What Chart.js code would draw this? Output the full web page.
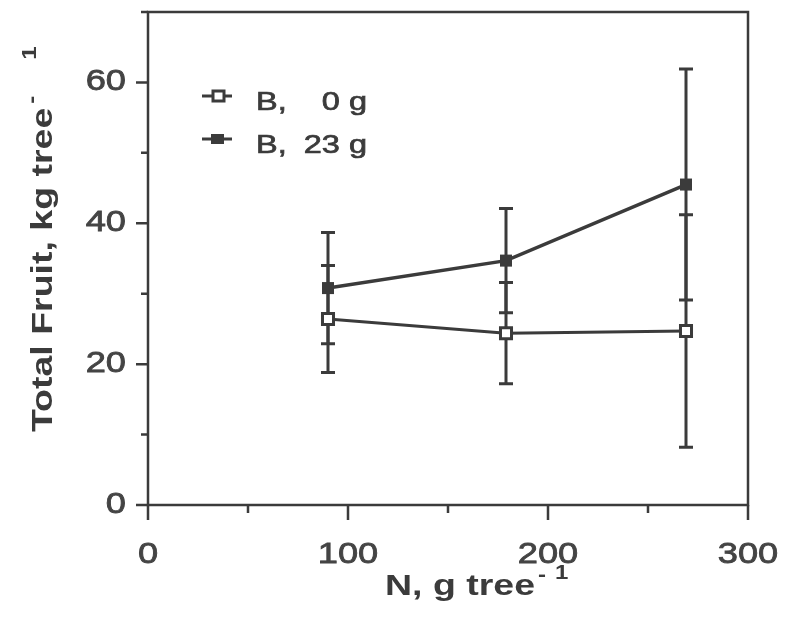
<!DOCTYPE html>
<html>
<head>
<meta charset="utf-8">
<script src="https://cdn.jsdelivr.net/npm/chart.js@4"></script>
<style>
    html, body { margin: 0; padding: 0; background: #fff; }
    #wrap { width: 799px; height: 625px; }
</style>
</head>
<body>
<div id="wrap"><canvas id="chart"></canvas></div>
<script>
//=================================================
//Data
//=================================================
const nRates = [90, 179, 269];
const fruitB0 = [26.4, 24.4, 24.7];
const errB0 = [7.6, 7.2, 16.5];
const fruitB23 = [30.8, 34.7, 45.5];
const errB23 = [7.9, 7.4, 16.4];
const xTickLabels = [0, 100, 200, 300];
const xMinorTicks = [50, 150, 250];
const yTickLabels = [0, 20, 40, 60];
const yMinorTicks = [10, 30, 50, 70];
const legendDose = ["0 g", "23 g"];

const ink = "#3b3b3b";
const face = "'Liberation Sans', Arial, sans-serif";

// the scan's lettering is wide, so stretch text along its direction
const wideText = (ctx, text, x, y, o) => {
    ctx.save();
    ctx.translate(x, y);
    if (o.rotate) ctx.rotate(o.rotate);
    ctx.scale(o.stretch || 1, 1);
    ctx.font = o.font;
    ctx.fillStyle = o.color || ink;
    ctx.textAlign = o.align || "left";
    ctx.textBaseline = o.baseline || "alphabetic";
    ctx.fillText(text, 0, 0);
    if (o.heavy) {
        // thicken a little, like the blurred print
        ctx.strokeStyle = o.color || ink;
        ctx.lineWidth = o.heavy;
        ctx.strokeText(text, 0, 0);
    }
    const w = ctx.measureText(text).width * (o.stretch || 1);
    ctx.restore();
    return w;
};

//=================================================
//Frame, ticks, error bars, legend
//=================================================
const paper = {
    id: "paper",
    beforeDatasetsDraw(chart) {
        const { ctx, scales: { x, y } } = chart;
        ctx.save();
        ctx.strokeStyle = ink;
        ctx.lineWidth = 3;
        [[fruitB23, errB23], [fruitB0, errB0]].forEach(([vals, errs]) => {
            vals.forEach((v, i) => {
                const px = x.getPixelForValue(nRates[i]);
                const hi = y.getPixelForValue(v + errs[i]);
                const lo = y.getPixelForValue(v - errs[i]);
                ctx.beginPath();
                ctx.moveTo(px, hi); ctx.lineTo(px, lo);
                ctx.moveTo(px - 7, hi); ctx.lineTo(px + 7, hi);
                ctx.moveTo(px - 7, lo); ctx.lineTo(px + 7, lo);
                ctx.stroke();
            });
        });
        ctx.restore();
    },
    afterDraw(chart) {
        const { ctx, chartArea: a, scales: { x, y } } = chart;
        ctx.save();
        ctx.strokeStyle = ink;
        ctx.lineWidth = 2.5;
        ctx.strokeRect(a.left, a.top, a.right - a.left, a.bottom - a.top);

        ctx.beginPath();
        yTickLabels.forEach((v) => {
            const py = y.getPixelForValue(v);
            ctx.moveTo(a.left - 12, py); ctx.lineTo(a.left, py);
        });
        yMinorTicks.forEach((v) => {
            const py = y.getPixelForValue(v);
            ctx.moveTo(a.left - 7, py); ctx.lineTo(a.left, py);
        });
        xTickLabels.forEach((v) => {
            const px = x.getPixelForValue(v);
            ctx.moveTo(px, a.bottom); ctx.lineTo(px, a.bottom + 15);
        });
        xMinorTicks.forEach((v) => {
            const px = x.getPixelForValue(v);
            ctx.moveTo(px, a.bottom); ctx.lineTo(px, a.bottom + 8);
        });
        ctx.stroke();

        const tickFont = "29px " + face;
        yTickLabels.forEach((v) => {
            wideText(ctx, String(v), a.left - 22, y.getPixelForValue(v), {
                font: tickFont, stretch: 1.25, align: "right", baseline: "middle", color: "#444", heavy: 0.8,
            });
        });
        xTickLabels.forEach((v) => {
            wideText(ctx, String(v), x.getPixelForValue(v), a.bottom + 58, {
                font: tickFont, stretch: 1.25, align: "center", color: "#444", heavy: 0.8,
            });
        });

        // axis titles
        const titleFont = "bold 30px " + face;
        const supFont = "bold 20px " + face;
        let w = wideText(ctx, "N, g tree", 385, 595, { font: titleFont, stretch: 1.25 });
        wideText(ctx, "-", 385 + w + 3, 581, { font: supFont, stretch: 1.2 });
        wideText(ctx, "1", 385 + w + 20, 579, { font: supFont, stretch: 1.2 });

        const rot = -Math.PI / 2;
        w = wideText(ctx, "Total Fruit, kg tree", 52, 432, { font: titleFont, stretch: 1.25, rotate: rot });
        wideText(ctx, "-", 38, 432 - w - 4, { font: supFont, stretch: 1.2, rotate: rot });
        wideText(ctx, "1", 36, 432 - w - 48, { font: supFont, stretch: 1.2, rotate: rot });

        // legend
        const rows = [96, 139];
        ctx.lineWidth = 3;
        rows.forEach((ry, i) => {
            ctx.beginPath();
            ctx.moveTo(202, ry); ctx.lineTo(232, ry);
            ctx.stroke();
            if (i === 0) {
                ctx.fillStyle = "#fff";
                ctx.fillRect(213, ry - 5, 11, 10);
                ctx.strokeRect(213, ry - 5, 11, 10);
            } else {
                ctx.fillStyle = ink;
                ctx.fillRect(211, ry - 5, 13, 10);
            }
            const legFont = "25px " + face;
            wideText(ctx, "B,", 256, ry + 14, { font: legFont, stretch: 1.3, heavy: 0.7 });
            wideText(ctx, legendDose[i], 367, ry + 14, { font: legFont, stretch: 1.3, align: "right", heavy: 0.7 });
        });
        ctx.restore();
    },
};

//=================================================
//Chart.js
//=================================================
const drawChart = () => {
    const pts = (vals) => nRates.map((n, i) => ({ x: n, y: vals[i] }));
    const config = {
        type: "line",
        data: {
            datasets: [
                {
                    label: "B, 23 g",
                    data: pts(fruitB23),
                    borderColor: ink,
                    borderWidth: 3.5,
                    pointStyle: "rect",
                    pointRadius: 8.5,
                    pointBackgroundColor: ink,
                    pointBorderWidth: 0,
                    tension: 0,
                },
                {
                    label: "B, 0 g",
                    data: pts(fruitB0),
                    borderColor: ink,
                    borderWidth: 3,
                    pointStyle: "rect",
                    pointRadius: 7.8,
                    pointBackgroundColor: "#fff",
                    pointBorderColor: ink,
                    pointBorderWidth: 3,
                    tension: 0,
                },
            ],
        },
        options: {
            responsive: true,
            maintainAspectRatio: false,
            animation: false,
            layout: {
                padding: { top: 12, right: 51, left: 0, bottom: 0 },
            },
            plugins: {
                legend: { display: false },
                tooltip: { enabled: false },
            },
            scales: {
                x: {
                    type: "linear",
                    min: 0,
                    max: 300,
                    grid: { display: false },
                    border: { display: false },
                    ticks: { display: false },
                    afterFit: (s) => { s.height = 120; },
                },
                y: {
                    min: 0,
                    max: 70,
                    grid: { display: false },
                    border: { display: false },
                    ticks: { display: false },
                    afterFit: (s) => { s.width = 148; },
                },
            },
        },
        plugins: [paper],
    };
    new Chart(document.getElementById("chart"), config);
};

drawChart();
</script>
</body>
</html>
